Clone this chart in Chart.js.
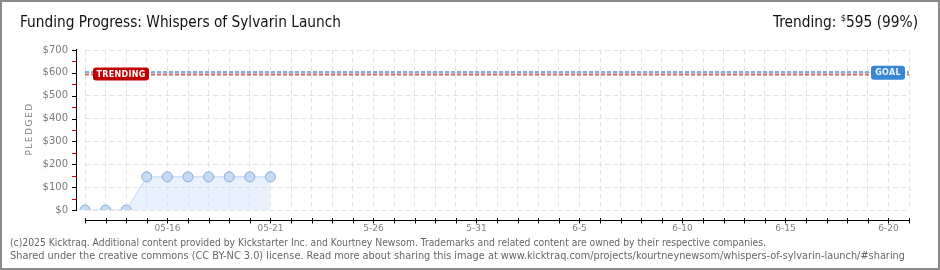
<!DOCTYPE html>
<html>
<head>
<meta charset="utf-8">
<script src="https://cdn.jsdelivr.net/npm/chart.js@4/dist/chart.umd.min.js"></script>
<style>
  html, body { margin:0; padding:0; background:#fff; }
  #wrap { position:relative; width:940px; height:270px; overflow:hidden; background:#fff; }
  #c { position:absolute; left:0; top:0; }
  #frame { position:absolute; left:0; top:0; width:940px; height:270px; box-sizing:border-box; border:2px solid #8a8a8a; pointer-events:none; }
  .t { position:absolute; white-space:nowrap; transform-origin:0 0; }
  #title { left:20px; top:13px; font:15px "DejaVu Sans Condensed","DejaVu Sans",sans-serif; color:#111; }
  #trend { top:13px; font:15px "DejaVu Sans Condensed","DejaVu Sans",sans-serif; color:#111; }
  #trend sup { font-size:9px; vertical-align:6px; }
  .foot { left:10px; font:10px "DejaVu Sans Condensed","DejaVu Sans",sans-serif; color:#666; }
  #f1 { top:237px; }
  #f2 { top:250px; }
</style>
</head>
<body>
<div id="wrap">
  <canvas id="c" width="940" height="270"></canvas>
  <div id="title" class="t">Funding Progress: Whispers of Sylvarin Launch</div>
  <div id="trend" class="t">Trending: <sup>$</sup>595 (99%)</div>
  <div id="f1" class="t foot">(c)2025 Kicktraq. Additional content provided by Kickstarter Inc. and Kourtney Newsom. Trademarks and related content are owned by their respective companies.</div>
  <div id="f2" class="t foot">Shared under the creative commons (CC BY-NC 3.0) license. Read more about sharing this image at www.kicktraq.com/projects/kourtneynewsom/whispers-of-sylvarin-launch/#sharing</div>
  <div id="frame"></div>
</div>
<script>
// ---- data ----
const days = ['05-12','05-13','05-14','05-15','05-16','05-17','05-18','05-19','05-20','05-21',
  '05-22','05-23','05-24','05-25','05-26','05-27','05-28','05-29','05-30','05-31',
  '06-01','06-02','06-03','06-04','06-05','06-06','06-07','06-08','06-09','06-10',
  '06-11','06-12','06-13','06-14','06-15','06-16','06-17','06-18','06-19','06-20','06-21'];
const xTickLabels = ['','','','','05-16','','','','','05-21',
  '','','','','5-26','','','','','5-31',
  '','','','','6-5','','','','','6-10',
  '','','','','6-15','','','','','6-20',''];
const pledged = [0, 0, 0, 145, 145, 145, 145, 145, 145, 145];
const yTicks = [0, 100, 200, 300, 400, 500, 600, 700];
const goal = 600;
const trending = 595;

// ---- fit text widths ----
function fit(id, w, rightAlign) {
  const el = document.getElementById(id);
  const cw = el.getBoundingClientRect().width;
  const s = w / cw;
  el.style.transform = 'scaleX(' + s + ')';
  if (rightAlign !== undefined) el.style.left = (rightAlign - w) + 'px';
}
fit('title', 321);
fit('trend', 145, 918);
fit('f1', 756);
fit('f2', 895);

function roundRect(ctx, x, y, w, h, r) {
  ctx.beginPath();
  ctx.moveTo(x + r, y);
  ctx.lineTo(x + w - r, y); ctx.quadraticCurveTo(x + w, y, x + w, y + r);
  ctx.lineTo(x + w, y + h - r); ctx.quadraticCurveTo(x + w, y + h, x + w - r, y + h);
  ctx.lineTo(x + r, y + h); ctx.quadraticCurveTo(x, y + h, x, y + h - r);
  ctx.lineTo(x, y + r); ctx.quadraticCurveTo(x, y, x + r, y);
  ctx.closePath();
}

const axesPlugin = {
  id: 'axesPlugin',
  afterDatasetsDraw(chart) {
    const ctx = chart.ctx, ys = chart.scales.y, xs = chart.scales.x, ca = chart.chartArea;
    ctx.save();
    // goal and trending lines
    ctx.setLineDash([4, 2]);
    ctx.lineWidth = 2;
    ctx.strokeStyle = 'rgba(110,160,220,0.85)';
    const gy = Math.round(ys.getPixelForValue(goal)) - 1;
    ctx.beginPath(); ctx.moveTo(ca.left, gy); ctx.lineTo(ca.right, gy); ctx.stroke();
    ctx.strokeStyle = 'rgba(200,50,50,0.75)';
    const ty = Math.round(ys.getPixelForValue(trending));
    ctx.beginPath(); ctx.moveTo(ca.left, ty + 0.5); ctx.lineTo(ca.right, ty + 0.5); ctx.stroke();
    ctx.setLineDash([]);
    // TRENDING box
    const my = ys.getPixelForValue(trending);
    ctx.fillStyle = '#c00000';
    roundRect(ctx, ca.left + 8, my - 6.5, 56, 13, 3); ctx.fill();
    ctx.fillStyle = '#fff';
    ctx.font = 'bold 8px "DejaVu Sans", sans-serif';
    ctx.letterSpacing = '0.3px';
    ctx.textAlign = 'center'; ctx.textBaseline = 'middle';
    ctx.fillText('TRENDING', ca.left + 36, my + 0.5);
    // GOAL box
    const gmy = ys.getPixelForValue(goal);
    ctx.fillStyle = '#3a86d6';
    roundRect(ctx, ca.right - 38, gmy - 7, 34, 14, 3); ctx.fill();
    ctx.fillStyle = '#eef4fb';
    ctx.fillText('GOAL', ca.right - 21, gmy + 0.5);
    ctx.letterSpacing = '0px';

    // y axis line
    ctx.strokeStyle = '#000'; ctx.lineWidth = 1;
    const ax = 76.5;
    ctx.beginPath(); ctx.moveTo(ax, ca.top - 1); ctx.lineTo(ax, ca.bottom + 1); ctx.stroke();
    for (let i = 0; i < yTicks.length; i++) {
      const py = Math.round(ys.getPixelForValue(yTicks[i])) + 0.5;
      ctx.strokeStyle = '#000';
      ctx.beginPath(); ctx.moveTo(72, py); ctx.lineTo(ax, py); ctx.stroke();
      if (i < yTicks.length - 1) {
        const my2 = Math.round(ys.getPixelForValue((yTicks[i] + yTicks[i + 1]) / 2)) + 0.5;
        ctx.strokeStyle = '#e00000';
        ctx.beginPath(); ctx.moveTo(72, my2); ctx.lineTo(ax, my2); ctx.stroke();
      }
    }
    // y axis title
    ctx.save();
    ctx.translate(30, (ca.top + ca.bottom) / 2 - 1);
    ctx.rotate(-Math.PI / 2);
    ctx.fillStyle = '#808080';
    ctx.font = '9px "DejaVu Sans", sans-serif';
    ctx.letterSpacing = '1.5px';
    ctx.textAlign = 'center'; ctx.textBaseline = 'middle';
    ctx.fillText('PLEDGED', 0, 0);
    ctx.restore();

    // x axis line
    const axy = 220.5;
    ctx.strokeStyle = '#000';
    ctx.beginPath(); ctx.moveTo(ca.left, axy); ctx.lineTo(ca.right + 1, axy); ctx.stroke();
    ctx.fillStyle = '#808080';
    ctx.font = '9px "DejaVu Sans", sans-serif';
    ctx.textAlign = 'center'; ctx.textBaseline = 'middle';
    for (let i = 0; i < days.length; i++) {
      const px = Math.round(xs.getPixelForValue(i)) + 0.5;
      ctx.beginPath(); ctx.moveTo(px, 218); ctx.lineTo(px, 223.5); ctx.stroke();
      if (xTickLabels[i]) ctx.fillText(xTickLabels[i], px, 229);
    }
    ctx.restore();
  }
};

new Chart(document.getElementById('c'), {
  type: 'line',
  data: {
    labels: days,
    datasets: [{
      data: pledged,
      fill: 'origin',
      backgroundColor: 'rgba(205,224,248,0.45)',
      borderColor: '#bcd5f1',
      borderWidth: 1,
      pointRadius: 5,
      pointBackgroundColor: '#c4dbf5',
      pointBorderColor: '#88abd6',
      pointBorderWidth: 1,
      tension: 0
    }]
  },
  options: {
    responsive: false,
    animation: false,
    devicePixelRatio: 1,
    layout: { padding: { top: 50, right: 31, left: 0, bottom: 0 } },
    plugins: { legend: { display: false }, tooltip: { enabled: false } },
    scales: {
      x: {
        type: 'category',
        offset: false,
        grid: { color: '#e3e3e3', drawTicks: false, lineWidth: 1 },
        border: { display: false, dash: [5, 3] },
        ticks: { display: false, autoSkip: false },
        afterFit(s) { s.height = 60; }
      },
      y: {
        min: 0, max: 700,
        grid: { color: '#e3e3e3', drawTicks: false, lineWidth: 1 },
        border: { display: false, dash: [5, 3] },
        ticks: {
          stepSize: 100,
          padding: 17,
          color: '#7a7a7a',
          font: { family: '"DejaVu Sans", sans-serif', size: 10 },
          callback: v => '$' + v
        },
        afterFit(s) { s.width = 85; }
      }
    }
  },
  plugins: [axesPlugin]
});
</script>
</body>
</html>
